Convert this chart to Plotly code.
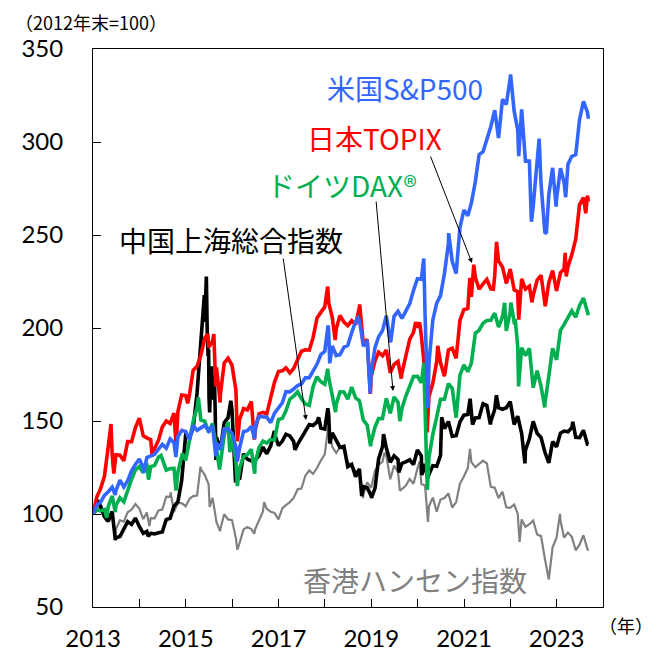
import pandas as pd
import plotly.graph_objects as go

# ---- monthly grid: Dec-2012 .. Aug-2023 month ends, then 2023-09-08 ----
MONTH_DATES = [d.strftime("%Y-%m-%d") for d in
               pd.date_range("2012-12-31", periods=129, freq=pd.offsets.MonthEnd())] + ["2023-09-08"]

SP500 = [100,
         105.0, 106.2, 110.0, 112.0, 114.4, 112.6, 118.2, 114.5, 117.9, 123.2, 126.6, 129.6,
         125.0, 130.3, 131.3, 132.1, 134.9, 137.4, 135.4, 140.4, 138.3, 141.5, 145.0, 144.4,
         139.9, 147.6, 145.0, 146.3, 147.7, 144.7, 147.5, 138.3, 134.6, 145.8, 145.8, 143.3,
         136.0, 135.5, 144.4, 144.8, 147.0, 147.2, 152.4, 152.2, 152.0, 149.1, 154.2, 157.0,
         159.8, 165.8, 165.7, 167.2, 169.1, 169.9, 173.2, 173.3, 176.6, 180.6, 185.7, 187.5,
         198.0, 190.3, 185.2, 185.7, 189.7, 190.6, 197.5, 203.5, 204.3, 190.2, 193.5, 175.8,
         189.6, 195.2, 198.7, 206.6, 193.0, 206.3, 209.0, 205.2, 208.7, 213.0, 220.2, 226.5,
         226.2, 207.1, 181.3, 204.2, 213.4, 217.4, 229.4, 245.4, 235.8, 229.3, 254.0, 263.4,
         260.4, 267.2, 278.6, 293.2, 294.8, 301.4, 308.2, 317.1, 302.1, 322.9, 320.2, 334.2,
         316.6, 306.7, 317.6, 289.7, 289.7, 265.4, 289.6, 277.3, 251.4, 271.5, 286.1, 269.2,
         285.9, 278.4, 288.1, 292.3, 293.1, 312.0, 321.8, 316.1, 312.5]
SP500_EXTRA_DATES = ["2013-06-24", "2014-02-03", "2014-10-15", "2015-08-25", "2016-02-11", "2016-06-27",
                     "2018-01-26", "2018-02-08", "2018-09-20", "2018-12-24", "2019-06-03", "2020-02-19",
                     "2020-03-23", "2020-09-02", "2022-01-03", "2022-03-08", "2022-06-16", "2022-08-16",
                     "2022-10-12", "2022-12-28", "2023-03-13"]
SP500_EXTRA = [110.3, 122.1, 130.6, 131.0, 128.2, 140.3,
               201.4, 181.0, 205.5, 164.8, 192.4, 237.4,
               156.9, 251.0, 336.4, 292.4, 257.1, 301.8,
               250.8, 265.3, 270.3]

TOPIX = [100,
         109.4, 113.5, 120.3, 136.1, 132.1, 131.9, 131.6, 128.6, 138.9, 138.9, 146.4, 151.5,
         142.0, 140.9, 139.9, 135.2, 139.7, 146.8, 150.0, 148.6, 154.3, 155.1, 164.0, 163.7,
         164.6, 177.2, 179.5, 185.3, 194.7, 189.6, 193.0, 178.8, 164.1, 181.2, 183.8, 180.0,
         166.6, 150.9, 156.7, 155.9, 160.5, 144.9, 153.8, 154.6, 153.8, 162.0, 170.9, 176.6,
         177.0, 178.6, 175.9, 178.2, 182.4, 187.5, 188.3, 188.1, 194.8, 205.4, 208.4, 211.4,
         213.6, 205.7, 199.6, 206.7, 203.2, 201.3, 203.9, 201.8, 211.4, 191.5, 193.9, 173.8,
         182.3, 187.0, 185.1, 188.2, 175.9, 180.4, 182.0, 175.8, 184.7, 193.9, 197.6, 200.2,
         195.9, 175.7, 163.2, 170.3, 181.9, 181.3, 174.0, 188.2, 189.1, 183.7, 204.1, 209.9,
         210.4, 216.8, 227.3, 220.8, 223.7, 226.1, 221.1, 228.0, 236.1, 232.8, 224.3, 231.7,
         220.5, 219.5, 226.4, 220.9, 222.5, 217.6, 225.7, 228.3, 213.5, 224.4, 230.9, 220.0,
         229.7, 231.8, 233.0, 239.3, 247.8, 266.2, 270.1, 271.2, 268.0]
TOPIX_EXTRA_DATES = ["2013-05-22", "2013-06-13", "2014-04-11", "2014-10-17", "2015-01-16", "2015-06-24",
                     "2015-08-10", "2015-08-25", "2015-09-29", "2016-02-12", "2016-06-24", "2018-01-23",
                     "2018-03-23", "2018-10-02", "2018-12-25", "2019-08-26", "2019-12-17", "2020-01-17",
                     "2020-03-16", "2020-06-08", "2021-02-16", "2021-03-19", "2021-08-20", "2021-09-14",
                     "2021-12-02", "2022-03-08", "2022-06-20", "2022-10-03", "2023-03-09", "2023-03-17",
                     "2023-08-18"]
TOPIX_EXTRA = [148.4, 121.7, 131.0, 136.2, 159.5, 196.7,
               196.7, 168.5, 159.9, 139.1, 140.0, 222.3,
               193.5, 212.7, 164.6, 172.8, 203.2, 203.0,
               143.8, 190.4, 227.0, 234.0, 220.9, 246.3,
               224.1, 204.5, 213.8, 211.7, 240.4, 227.7,
               261.7]

DAX = [100,
       102.1, 101.7, 102.4, 104.0, 109.7, 104.6, 108.7, 106.5, 112.9, 118.7, 123.6, 125.5,
       122.2, 127.3, 125.5, 126.1, 130.6, 129.2, 123.6, 124.4, 124.5, 122.5, 131.1, 128.8,
       140.5, 149.8, 157.2, 150.5, 149.9, 143.8, 148.6, 134.8, 126.9, 142.5, 149.5, 141.1,
       128.7, 124.7, 130.9, 131.9, 134.8, 127.2, 135.8, 139.2, 138.1, 140.1, 139.8, 150.8,
       151.5, 155.5, 161.7, 163.4, 165.7, 161.9, 159.2, 158.4, 168.5, 173.8, 171.1, 169.7,
       173.3, 163.4, 158.9, 165.7, 165.6, 161.7, 168.2, 162.4, 160.9, 150.4, 147.9, 138.7,
       146.8, 151.3, 151.4, 162.2, 154.1, 162.9, 160.1, 156.8, 163.3, 169.0, 173.9, 174.0,
       170.5, 156.2, 130.5, 142.7, 152.2, 161.7, 161.7, 170.1, 167.6, 151.8, 174.6, 180.2,
       176.5, 181.1, 197.2, 198.8, 202.6, 204.0, 204.2, 208.0, 200.5, 206.1, 198.4, 208.7,
       203.2, 190.0, 189.4, 185.2, 189.0, 167.9, 177.1, 168.6, 159.1, 174.1, 189.1, 182.9,
       198.7, 201.8, 205.3, 209.2, 205.8, 212.1, 216.1, 209.5, 206.8]
DAX_EXTRA_DATES = ["2013-04-18", "2013-06-24", "2014-03-13", "2014-06-20", "2014-10-16", "2014-12-05",
                   "2015-04-10", "2015-09-24", "2015-12-14", "2016-02-11", "2016-06-27", "2018-01-23",
                   "2018-03-26", "2018-12-27", "2019-08-15", "2020-02-19", "2020-03-18", "2021-11-17",
                   "2022-01-05", "2022-02-10", "2022-03-07", "2022-09-29"]
DAX_EXTRA = [98.0, 101.0, 118.5, 131.5, 112.6, 132.5,
             162.6, 123.9, 133.2, 115.0, 121.7, 178.1,
             154.8, 136.4, 149.9, 181.1, 113.0, 213.5,
             213.7, 203.5, 168.6, 157.3]

SHANGHAI = [100,
            105.1, 104.3, 98.6, 96.0, 101.4, 87.2, 87.9, 92.5, 95.9, 94.4, 97.8, 93.3,
            89.6, 90.6, 89.6, 89.3, 89.9, 90.3, 97.0, 97.7, 104.2, 106.6, 118.2, 142.6,
            141.5, 145.9, 165.2, 195.8, 203.2, 188.5, 161.5, 141.3, 134.5, 149.1, 151.8, 156.0,
            120.7, 118.5, 132.4, 129.5, 128.6, 129.1, 131.3, 136.0, 132.4, 136.6, 143.2, 136.8,
            139.2, 142.9, 142.0, 139.0, 137.4, 140.7, 144.2, 148.1, 147.6, 149.5, 146.2, 145.7,
            153.4, 143.6, 139.7, 135.8, 136.4, 125.5, 126.7, 120.1, 124.3, 114.7, 114.1, 109.9,
            113.9, 129.6, 136.2, 135.6, 127.8, 131.3, 129.3, 127.2, 128.0, 129.1, 126.6, 134.4,
            131.2, 126.9, 121.2, 126.0, 125.7, 131.5, 145.9, 149.7, 141.8, 142.1, 149.5, 153.1,
            153.5, 154.6, 151.7, 151.9, 159.3, 158.3, 149.7, 156.2, 157.2, 156.3, 157.1, 160.4,
            148.1, 152.6, 143.4, 134.3, 140.4, 149.8, 143.4, 141.1, 133.3, 127.5, 138.9, 136.1,
            143.5, 144.6, 144.2, 146.4, 141.2, 141.1, 145.0, 137.5, 137.4]
SHANGHAI_EXTRA_DATES = ["2013-02-06", "2013-06-25", "2014-03-11", "2015-05-27", "2015-06-05", "2015-06-12",
                        "2015-06-19", "2015-06-26", "2015-07-03", "2015-07-08", "2015-07-17", "2015-07-24",
                        "2015-08-14", "2015-08-21", "2015-08-26", "2015-12-22", "2016-01-28", "2016-11-29",
                        "2017-05-10", "2017-11-13", "2018-01-24", "2018-02-09", "2018-10-18", "2019-01-03",
                        "2019-04-08", "2019-08-06", "2020-02-03", "2020-03-19", "2020-07-09", "2021-02-18",
                        "2021-03-09", "2021-07-28", "2021-09-13", "2022-04-26", "2023-05-08"]
SHANGHAI_EXTRA = [107.3, 86.0, 88.0, 217.7, 221.4, 227.7,
                  197.3, 184.8, 162.5, 154.6, 174.4, 179.4,
                  174.7, 154.6, 129.0, 160.9, 117.0, 144.7,
                  134.5, 151.9, 156.8, 137.9, 109.6, 108.6,
                  143.0, 122.4, 121.0, 119.1, 152.0, 162.0,
                  148.1, 148.1, 163.8, 127.2, 149.6]

HANGSENG = [100,
            104.7, 101.6, 98.4, 100.4, 98.8, 91.8, 96.6, 95.9, 100.9, 102.4, 105.4, 102.9,
            97.3, 100.8, 97.8, 97.7, 101.9, 102.4, 109.3, 109.2, 101.2, 105.9, 105.9, 104.2,
            108.2, 109.6, 109.9, 124.2, 121.0, 115.9, 108.7, 95.6, 92.0, 99.9, 97.1, 96.7,
            86.9, 84.4, 91.7, 93.0, 91.9, 91.8, 96.6, 101.4, 102.8, 101.2, 100.6, 97.1,
            103.1, 104.8, 106.4, 108.6, 113.3, 113.7, 120.6, 123.4, 121.6, 124.7, 128.8, 132.1,
            145.2, 136.1, 132.8, 136.0, 134.5, 127.8, 126.2, 123.1, 122.6, 110.3, 117.0, 114.1,
            123.3, 126.4, 128.2, 131.1, 118.7, 126.0, 122.6, 113.5, 115.2, 118.8, 116.3, 124.4,
            116.1, 115.3, 104.2, 108.8, 101.3, 107.8, 108.6, 111.1, 103.5, 106.4, 116.3, 120.2,
            124.8, 127.9, 125.2, 126.8, 128.7, 127.2, 114.6, 114.2, 108.5, 112.0, 103.6, 103.3,
            105.1, 100.2, 97.1, 93.1, 94.5, 96.5, 89.0, 88.1, 76.0, 64.8, 82.1, 87.3,
            96.4, 87.3, 90.0, 87.8, 80.5, 83.5, 88.6, 81.1, 80.3]
HANGSENG_EXTRA_DATES = ["2013-04-15", "2013-06-24", "2014-03-20", "2014-09-03", "2015-04-27", "2015-07-08",
                        "2015-09-29", "2016-02-11", "2016-06-24", "2016-09-09", "2018-01-26", "2018-10-30",
                        "2019-04-15", "2019-08-15", "2020-01-17", "2020-03-23", "2021-02-17", "2022-03-15",
                        "2023-01-27"]
HANGSENG_EXTRA = [96.1, 87.5, 93.5, 111.7, 125.5, 103.8,
                  90.7, 80.9, 89.4, 106.4, 146.3, 108.5,
                  133.0, 112.5, 128.2, 95.8, 135.0, 85.0,
                  100.1]

YEAR_TICKS = [f"{y}-01-01" for y in range(2013, 2024)]
YEAR_LABELS = [str(y) if y % 2 == 1 else "" for y in range(2013, 2024)]


def series(monthly, extra_dates, extra_vals):
    s = pd.concat([pd.Series(monthly, index=pd.to_datetime(MONTH_DATES)),
                   pd.Series(extra_vals, index=pd.to_datetime(extra_dates))])
    return s.sort_index()


BLUE, RED, GREEN, GRAY = "#3366FF", "#FF0000", "#00B050", "#808080"

fig = go.Figure()
for vals, ed, ev, col, w in [
    (HANGSENG, HANGSENG_EXTRA_DATES, HANGSENG_EXTRA, GRAY, 2.2),
    (SHANGHAI, SHANGHAI_EXTRA_DATES, SHANGHAI_EXTRA, "black", 3.6),
    (TOPIX, TOPIX_EXTRA_DATES, TOPIX_EXTRA, RED, 3.6),
    (DAX, DAX_EXTRA_DATES, DAX_EXTRA, GREEN, 3.6),
    (SP500, SP500_EXTRA_DATES, SP500_EXTRA, BLUE, 3.6),
]:
    s = series(vals, ed, ev)
    fig.add_trace(go.Scatter(x=s.index, y=s.values, mode="lines",
                             line=dict(color=col, width=w), showlegend=False,
                             hoverinfo="skip"))

JP = "Noto Sans CJK JP"
NUM = "Lato"

# page has an 8px body margin; figure sized so the plot box lands at x 93-603, y 49-607
fig.update_layout(
    width=647, height=647,
    margin=dict(l=85, r=52, t=41, b=48, autoexpand=False),
    paper_bgcolor="white", plot_bgcolor="white",
    showlegend=False,
    xaxis=dict(type="date", range=["2012-12-31", "2024-01-01"],
               tickvals=YEAR_TICKS, ticktext=YEAR_LABELS,
               ticks="inside", ticklen=8, tickcolor="black",
               showline=True, linecolor="black", linewidth=1, mirror=True,
               showgrid=False, zeroline=False, automargin=False,
               tickfont=dict(family=NUM, size=24, color="black"),
               ticklabelstandoff=10),
    yaxis=dict(range=[50, 350], dtick=50, tick0=50,
               ticks="inside", ticklen=8, tickcolor="black",
               showline=True, linecolor="black", linewidth=1, mirror=True,
               showgrid=False, zeroline=False, automargin=False,
               tickfont=dict(family=NUM, size=24, color="black"),
               ticklabelstandoff=24),
)

def px2paper(px, py):
    return (px - 93) / 510, (607 - py) / 558

labels = [
    ("米国S&P500", 405, 88, BLUE),
    ("日本TOPIX", 374, 138, RED),
    ("ドイツDAX®", 342, 185, GREEN),
    ("中国上海総合指数", 231, 240, "black"),
    ("香港ハンセン指数", 415, 580, GRAY),
]
for txt, px, py, col in labels:
    xp, yp = px2paper(px, py)
    fig.add_annotation(text=txt, x=xp, y=yp, xref="paper", yref="paper",
                       showarrow=False, xanchor="center", yanchor="middle",
                       font=dict(family=JP, size=28, color=col))

for hx, hy, tx, ty in [(306, 420, 283, 257), (393, 391, 376, 200), (472, 263, 430, 155)]:
    xp, yp = px2paper(hx, hy)
    fig.add_annotation(text="", x=xp, y=yp, xref="paper", yref="paper",
                       showarrow=True, ax=tx - hx, ay=ty - hy,
                       arrowhead=2, arrowsize=1, arrowwidth=1, arrowcolor="black")

xp, yp = px2paper(91, 22)
fig.add_annotation(text="（2012年末=100）", x=xp, y=yp, xref="paper", yref="paper",
                   showarrow=False, xanchor="center", yanchor="middle",
                   font=dict(family=JP, size=18, color="black"))
xp, yp = px2paper(626, 625)
fig.add_annotation(text="（年）", x=xp, y=yp, xref="paper", yref="paper",
                   showarrow=False, xanchor="center", yanchor="middle",
                   font=dict(family=JP, size=18, color="black"))

fig.write_html("out.html")
